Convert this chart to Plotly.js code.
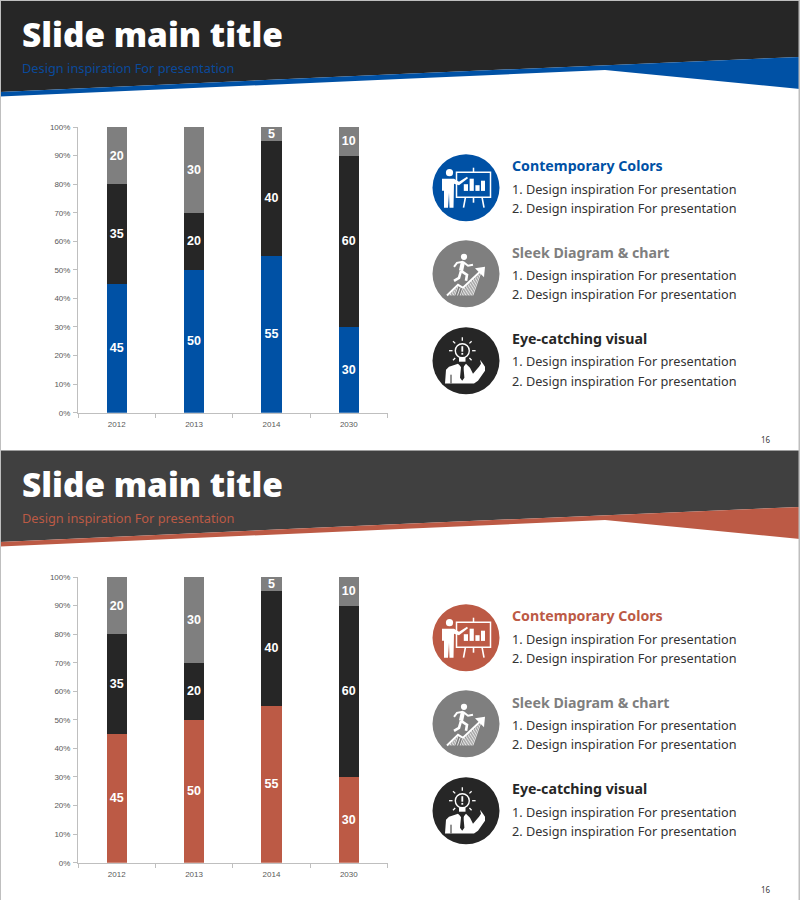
<!DOCTYPE html>
<html><head><meta charset="utf-8">
<script src="https://cdn.plot.ly/plotly-3.0.1.min.js"></script>
<style>html,body{margin:0;padding:0;background:#fff}</style></head>
<body><div id="chart" style="width:800px;height:900px"></div>
<script>
// ---- data ----
const categories = ['2012','2013','2014','2030'];
const accentShare = [45,50,55,30];
const blackShare = [35,20,40,60];
const greyShare = [20,30,5,10];
const yTicks = [0,10,20,30,40,50,60,70,80,90,100];
const yTickLabels = ['0%','10%','20%','30%','40%','50%','60%','70%','80%','90%','100%'];
const slideTitle = 'Slide main title';
const slideSubtitle = 'Design inspiration For presentation';
const headings = ['Contemporary Colors','Sleek Diagram &amp; chart','Eye-catching visual'];
const bulletLines = ['1. Design inspiration For presentation','2. Design inspiration For presentation'];
const pageNumber = '16';
const blue = '#0051A5', red = '#BC5A45', black = '#262626', grey = '#7F7F7F';

// ---- helpers: page pixels to paper ----
const W = 800, H = 900;
const px = x => x / W, py = y => 1 - y / H;
const P = (x,y) => px(x).toFixed(5) + ' ' + py(y).toFixed(5);
function pathOf(cmds, ox, oy){
  return cmds.map(c => c[0]==='Z' ? 'Z' : c[0] + P(ox+c[1], oy+c[2])).join(' ');
}
const shapes = [], annotations = [];
function poly(pts, fill, ox=0, oy=0){
  shapes.push({type:'path',xref:'paper',yref:'paper',layer:'below',fillcolor:fill,line:{width:0},
    path: pathOf(pts.map((p,i)=>[i?'L':'M',p[0],p[1]]).concat([['Z']]),ox,oy)});
}
function stroke(pts, col, w, ox=0, oy=0){
  shapes.push({type:'path',xref:'paper',yref:'paper',layer:'below',line:{color:col,width:w},
    path: pathOf(pts.map((p,i)=>[i?'L':'M',p[0],p[1]]),ox,oy)});
}
function disc(cx,cy,r,fill,lineCol,lw){
  shapes.push({type:'circle',xref:'paper',yref:'paper',layer:'below',fillcolor:fill,
    line: lineCol?{color:lineCol,width:lw}:{width:0},
    x0:px(cx-r),x1:px(cx+r),y0:py(cy+r),y1:py(cy-r)});
}
function rect(x0,y0,x1,y1,fill,lineCol,lw){
  shapes.push({type:'rect',xref:'paper',yref:'paper',layer:'below',fillcolor:fill,
    line: lineCol?{color:lineCol,width:lw}:{width:0},
    x0:px(x0),x1:px(x1),y0:py(y1),y1:py(y0)});
}
function label(text,x,y,size,color,family,anchor='left',weight=400){
  annotations.push({text,x:px(x),y:py(y),xref:'paper',yref:'paper',showarrow:false,
    xanchor:anchor,yanchor:'middle',borderpad:0,
    font:{size,color,family,weight}});
}

// ---- icons, drawn around a centre ----
function iconPresenter(c,r,bg){
  disc(c,r,33.5,bg);
  const w='#fff';
  disc(c-16.5,r-15,3.6,w);
  poly([[-24,-9],[-12,-9],[-7,-6],[1,-11],[2,-9.5],[-7,-2.5],[-12,-4],[-12.5,20],[-16.5,20],[-17,5],[-18,20],[-22,20],[-22,3],[-24,3]],w,c,r);
  rect(c-9.5,r-15.5,c+24.5,r+9.5,'rgba(0,0,0,0)',w,1.5);
  stroke([[7.5,-20],[7.5,-15.5]],w,1.5,c,r);
  stroke([[-0.5,9.5],[-2.5,20]],w,1.6,c,r);
  stroke([[16,9.5],[18,20]],w,1.6,c,r);
  stroke([[7.5,9.5],[7.5,15]],w,1.6,c,r);
  rect(c-2.2,r-3.5,c+2,r+3.2,w);
  rect(c+3.6,r-9,c+7.8,r+3.2,w);
  rect(c+9.4,r-2.5,c+13.6,r+3.2,w);
  rect(c+15,r-7,c+19,r+3.2,w);
}
function iconRunner(c,r,bg){
  disc(c,r,33.5,bg);
  const w='#fff';
  disc(c-2,r-17,3.1,w);
  stroke([[-3,-12],[-5,-3]],w,4.2,c,r);
  stroke([[-3,-12],[-9,-11],[-12,-7]],w,2,c,r);
  stroke([[-3,-12],[2,-8],[7,-9]],w,2,c,r);
  stroke([[-5,-3],[1,1],[0,7]],w,2.6,c,r);
  stroke([[-5,-3],[-7,4],[-12,7]],w,2.6,c,r);
  // zigzag arrow
  stroke([[-19,21.7],[-8,11],[-3,14],[15,-3]],w,2,c,r);
  poly([[9,-5.5],[19,-7],[18,3.5]],w,c,r);
  // hatching beneath the arrow
  for(let x=-15;x<=16;x+=2.3){
    const top=x<-8?21.7-(x+19)*0.97:(x<-3?11+(x+8)*0.6:14-(x+3)*0.94);
    stroke([[x-(21.7-top-1.5)*0.35,21.7],[x,top+1.5]],w,0.8,c,r);
  }
}
function iconIdea(c,r,bg){
  disc(c,r,33.5,bg);
  const w='#fff';
  disc(c-3.7,r-10,7,bg,w,1.4);
  rect(c-4.6,r-14.5,c-2.8,r-9,w);
  rect(c-4.6,r-7.8,c-2.8,r-6,w);
  rect(c-7,r-3,c-0.5,r+1,w);
  [[-3.7,-23.5,-3.7,-20],[-13,-19.5,-10.8,-17.3],[5.6,-19.5,3.4,-17.3],[-17,-10,-13.5,-10],[9.6,-10,6.1,-10],[-13,-0.5,-10.8,-2.7],[5.6,-0.5,3.4,-2.7]]
    .forEach(s=>stroke([[s[0],s[1]],[s[2],s[3]]],w,1.3,c,r));
  poly([[-21,22.7],[-20,9],[-17,6],[-8,3],[-5,6],[-4,17],[-2.5,6],[0,3],[4,7],[7,13],[13,6],[15,3],[14,-1],[17,3],[19,6],[19,10],[12,20],[8,22.7]],w,c,r);
  poly([[-6,4],[-3.8,3],[-1.6,4],[-2.5,6.5],[-1.6,17],[-3.8,20],[-6,17],[-5,6.5]],bg,c,r);
  stroke([[-15,14],[-15,22.7]],bg,1,c,r);
}

// ---- two slides ----
const traces = [];
const layout = {
  width:W,height:H,autosize:false,margin:{l:0,r:0,t:0,b:0},
  paper_bgcolor:'#fff',plot_bgcolor:'rgba(0,0,0,0)',showlegend:false,barmode:'stack',bargap:0.74,
  shapes,annotations,hovermode:false
};
function slide(idx,oy,dark,accent,subtitleColor){
  rect(0,oy,800,oy+450,'#fff');
  poly([[0,0],[800,0],[800,57],[400,74],[0,92]],dark,0,oy);
  poly([[0,92],[400,74],[800,57],[800,89],[605,70],[400,79],[0,96.5]],accent,0,oy);
  label(slideTitle,21,oy+34,33.4,'#fff','"Open Sans"','left',800);
  label(slideSubtitle,21,oy+68,12.8,subtitleColor,'"Noto Sans"');
  const cols=[accent,grey,black];
  const centers=[187.7,273.8,360.7];
  [iconPresenter,iconRunner,iconIdea].forEach((f,i)=>f(466,oy+centers[i],cols[i]));
  const hy=[165.5,252,338.5];
  headings.forEach((h,i)=>{
    label(h,511,oy+hy[i],14.2,cols[i],'"Noto Sans"','left',700);
    bulletLines.forEach((b,j)=>label(b,511,oy+hy[i]+23+j*19.2,12.7,'#333333','"Noto Sans"'));
  });
  label(pageNumber,766,oy+439.5,8,'#404040','"Noto Sans"','center');
  const xa='xaxis'+(idx?idx+1:''), ya='yaxis'+(idx?idx+1:'');
  const xr=idx?'x'+(idx+1):'x', yr=idx?'y'+(idx+1):'y';
  layout[xa]={domain:[px(78),px(387.5)],anchor:yr,type:'category',categoryorder:'array',categoryarray:categories,
    tickson:'boundaries',ticks:'outside',ticklen:4,tickcolor:'#BFBFBF',linecolor:'#BFBFBF',linewidth:1,showline:true,
    ticklabelstandoff:4,showgrid:false,zeroline:false,tickfont:{size:8,color:'#595959',family:'"Liberation Sans"'}};
  layout[ya]={domain:[py(oy+412.7),py(oy+127)],anchor:xr,range:[0,100],tickmode:'array',tickvals:yTicks,ticktext:yTickLabels,
    ticks:'outside',ticklen:4,tickcolor:'#BFBFBF',linecolor:'#BFBFBF',linewidth:1,showline:true,
    ticklabelstandoff:1,showgrid:false,zeroline:false,tickfont:{size:8,color:'#595959',family:'"Liberation Sans"'}};
  [[accentShare,accent],[blackShare,black],[greyShare,grey]].forEach(s=>traces.push({
    type:'bar',x:categories,y:s[0],xaxis:xr,yaxis:yr,marker:{color:s[1]},
    text:s[0].map(String),textposition:'inside',insidetextanchor:'middle',textangle:0,constraintext:'none',
    textfont:{size:12.5,color:'#fff',family:'"Liberation Sans"',weight:700},cliponaxis:false
  }));
}
slide(0,0,black,blue,'#0A4A9B');
slide(1,450,'#404040',red,red);
rect(0,450,800,450.8,'#BFBFBF');
rect(0,0,800,1,'#BFBFBF');
rect(0,0,1,900,'#BFBFBF');
rect(798.5,0,800,900,'#BFBFBF');
Plotly.newPlot('chart',traces,layout,{staticPlot:true,displayModeBar:false});
</script></body></html>
